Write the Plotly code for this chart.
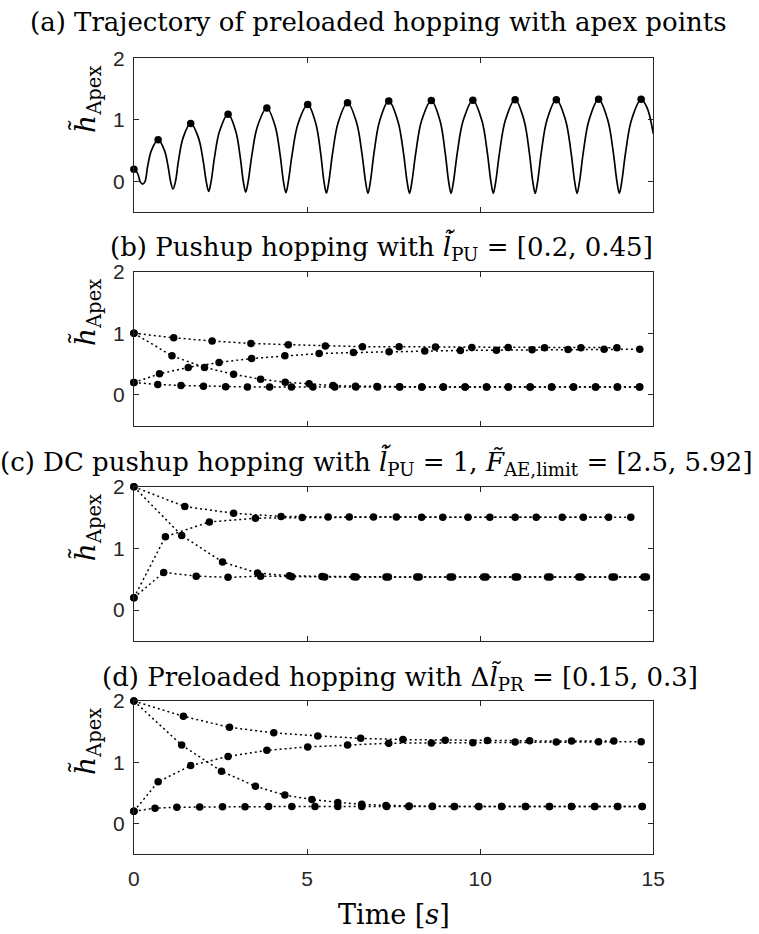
import plotly.graph_objects as go

# ---------------- data ----------------
# (a) trajectory samples of preloaded hopping
traj_t = [0, 0.09, 0.144, 0.18, 0.25, 0.32,
          0.396, 0.51, 0.70, 0.88, 0.988, 1.06, 1.13, 1.20,
          1.288, 1.42, 1.64, 1.865, 2.0, 2.09, 2.16, 2.23,
          2.328, 2.475, 2.72, 2.94, 3.072, 3.16, 3.23, 3.30,
          3.408, 3.57, 3.84, 4.08, 4.224, 4.32, 4.39, 4.46,
          4.572, 4.74, 5.02, 5.255, 5.396, 5.49, 5.56, 5.63,
          5.738, 5.90, 6.17, 6.43, 6.586, 6.69, 6.76, 6.83,
          6.936, 7.095, 7.36, 7.625, 7.784, 7.89, 7.96, 8.03,
          8.142, 8.31, 8.59, 8.84, 8.99, 9.09, 9.16, 9.23,
          9.342, 9.51, 9.79, 10.05, 10.206, 10.31, 10.38, 10.45,
          10.562, 10.73, 11.01, 11.265, 11.418, 11.52, 11.59, 11.66,
          11.768, 11.93, 12.20, 12.465, 12.624, 12.73, 12.80, 12.87,
          12.98, 13.145, 13.42, 13.685, 13.844, 13.95, 14.02, 14.09,
          14.202, 14.37, 14.65, 14.82, 15.0]
traj_h = [0.20, 0.15, 0.072, 0, -0.04, 0,
          0.245, 0.51, 0.68, 0.51, 0.245, 0, -0.12, 0,
          0.34, 0.71, 0.945, 0.71, 0.34, 0, -0.16, 0,
          0.394, 0.82, 1.095, 0.82, 0.394, 0, -0.17, 0,
          0.43, 0.90, 1.195, 0.90, 0.43, 0, -0.18, 0,
          0.45, 0.94, 1.25, 0.94, 0.45, 0, -0.185, 0,
          0.46, 0.96, 1.28, 0.96, 0.46, 0, -0.19, 0,
          0.47, 0.98, 1.31, 0.98, 0.47, 0, -0.19, 0,
          0.47, 0.99, 1.315, 0.99, 0.47, 0, -0.19, 0,
          0.475, 0.99, 1.32, 0.99, 0.475, 0, -0.19, 0,
          0.48, 1.0, 1.33, 1.0, 0.48, 0, -0.19, 0,
          0.48, 1.0, 1.33, 1.0, 0.48, 0, -0.19, 0,
          0.48, 1.0, 1.335, 1.0, 0.48, 0, -0.19, 0,
          0.48, 1.0, 1.335, 1.2, 0.78]
apex_t = [0, 0.70, 1.64, 2.72, 3.84, 5.02, 6.17, 7.36, 8.59, 9.79, 11.01, 12.20, 13.42, 14.65]
apex_h = [0.2, 0.68, 0.945, 1.095, 1.195, 1.25, 1.28, 1.31, 1.315, 1.32, 1.33, 1.33, 1.335, 1.335]

# (b) pushup hopping
b1_t = [0, 1.15, 2.26, 3.38, 4.46, 5.53, 6.60, 7.66, 8.71, 9.76, 10.81, 11.86, 12.91, 13.95]
b1_h = [1.0, 0.926, 0.873, 0.835, 0.814, 0.793, 0.782, 0.78, 0.777, 0.77, 0.768, 0.766, 0.765, 0.765]
b2_t = [0, 1.10, 2.04, 2.88, 3.66, 4.37, 5.06, 5.75, 6.40, 7.02, 7.67, 8.31, 8.93, 9.56,
        10.18, 10.81, 11.44, 12.06, 12.69, 13.33, 13.96, 14.60]
b2_h = [1.0, 0.633, 0.445, 0.333, 0.253, 0.205, 0.178, 0.15, 0.14, 0.133, 0.13, 0.128, 0.127, 0.126,
        0.125, 0.125, 0.125, 0.125, 0.125, 0.125, 0.125, 0.125]
b3_t = [0, 0.74, 1.57, 2.46, 3.40, 4.36, 5.35, 6.34, 7.37, 8.40, 9.43, 10.47, 11.50, 12.54, 13.58, 14.61]
b3_h = [0.2, 0.34, 0.445, 0.525, 0.59, 0.633, 0.67, 0.686, 0.70, 0.71, 0.72, 0.725, 0.73, 0.735, 0.74, 0.74]
b4_t = [0, 0.69, 1.36, 2.01, 2.65, 3.28, 3.92, 4.55, 5.17, 5.80, 6.41, 7.04, 7.68, 8.32, 8.94,
        9.57, 10.19, 10.82, 11.45, 12.07, 12.70, 13.34, 13.97, 14.61]
b4_h = [0.2, 0.168, 0.152, 0.14, 0.13, 0.127, 0.126, 0.125, 0.125, 0.125, 0.125, 0.125, 0.125,
        0.125, 0.125, 0.125, 0.125, 0.125, 0.125, 0.125, 0.125, 0.125, 0.125, 0.125]

# (c) DC pushup hopping
c1_t = [0, 1.47, 2.88, 4.25, 5.61, 6.92, 8.31, 9.65, 11.01, 12.37, 13.71]
c1_h = [2.0, 1.68, 1.57, 1.52, 1.51, 1.51, 1.505, 1.505, 1.505, 1.505, 1.505]
c2_t = [0, 0.91, 2.18, 3.51, 4.86, 6.22, 7.58, 8.92, 10.28, 11.62, 12.98, 14.35]
c2_h = [0.2, 1.19, 1.43, 1.49, 1.50, 1.51, 1.51, 1.505, 1.505, 1.505, 1.505, 1.505]
c3_t = [0, 1.38, 2.56, 3.57, 4.49, 5.43, 6.35, 7.28, 8.17, 9.13, 10.10, 11.01, 11.95, 12.85, 13.81, 14.73]
c3_h = [2.0, 1.21, 0.78, 0.60, 0.555, 0.545, 0.54, 0.538, 0.537, 0.537, 0.537, 0.537, 0.537, 0.537, 0.537, 0.537]
c4_t = [0, 0.86, 1.80, 2.72, 3.66, 4.56, 5.51, 6.42, 7.35, 8.24, 9.20, 10.17, 11.08, 12.02, 12.92, 13.88, 14.80]
c4_h = [0.2, 0.61, 0.55, 0.53, 0.55, 0.54, 0.537, 0.537, 0.537, 0.537, 0.537, 0.537, 0.537, 0.537,
        0.537, 0.537, 0.537]

# (d) preloaded hopping
d1_t = [0, 1.43, 2.76, 4.04, 5.31, 6.55, 7.77, 8.99, 10.21, 11.43, 12.64, 13.86]
d1_h = [2.0, 1.75, 1.57, 1.48, 1.43, 1.39, 1.37, 1.36, 1.355, 1.35, 1.345, 1.345]
d2_t = apex_t
d2_h = apex_h
d3_t = [0, 1.38, 2.53, 3.51, 4.36, 5.14, 5.89, 6.58, 7.28, 7.95, 8.62, 9.26, 9.96, 10.62,
        11.31, 12.0, 12.64, 13.31, 13.97, 14.68]
d3_h = [2.0, 1.28, 0.853, 0.607, 0.463, 0.392, 0.344, 0.312, 0.295, 0.285, 0.28, 0.278, 0.277,
        0.276, 0.275, 0.275, 0.275, 0.275, 0.275, 0.275]
d4_t = [0, 0.61, 1.24, 1.90, 2.56, 3.21, 3.89, 4.56, 5.23, 5.89, 6.58, 7.30, 7.94, 8.62, 9.25,
        9.96, 10.62, 11.31, 12.0, 12.64, 13.31, 13.97, 14.68]
d4_h = [0.2, 0.25, 0.265, 0.27, 0.272, 0.274, 0.275, 0.275, 0.275, 0.275, 0.275, 0.275, 0.275,
        0.275, 0.275, 0.275, 0.275, 0.275, 0.275, 0.275, 0.275, 0.275, 0.275]

x_ticks = [0, 5, 10, 15]
y_ticks = [0, 1, 2]

titles = [
    "(a) Trajectory of preloaded hopping with apex points",
    "(b) Pushup hopping with <i>l\u0307\u0303</i><sub>PU</sub> = [0.2, 0.45]",
    "(c) DC pushup hopping with <i>l\u0307\u0303</i><sub>PU</sub> = 1, <i>F\u0303</i><sub>AE,limit</sub> = [2.5, 5.92]",
    "(d) Preloaded hopping with \u0394<i>l\u0303</i><sub>PR</sub> = [0.15, 0.3]",
]
ylabel = "<i>h\u0303</i><sub>Apex</sub>"
xlabel = "Time [<i>s</i>]"

# ---------------- layout constants ----------------
W, H = 759, 934
X0, X1 = 131, 663
panel_px = [(47, 203), (263, 419), (481, 637), (698, 853)]
title_px = [(382, 10), (385, 238), (380, 456), (404, 675)]
INK = "#262626"
SERIF = "DejaVu Serif"
SANS = "Liberation Sans, Arial, sans-serif"
DOT = "2px,3px"
MSIZE = 7.5

fig = go.Figure()

def ax_names(i):
    return ("x" if i == 0 else f"x{i+1}", "y" if i == 0 else f"y{i+1}")

# panel (a)
xa, ya = ax_names(0)
fig.add_trace(go.Scatter(x=traj_t, y=traj_h, mode="lines", line=dict(color="black", width=1.7, shape="spline", smoothing=1.0),
                         xaxis=xa, yaxis=ya, showlegend=False, hoverinfo="skip"))
fig.add_trace(go.Scatter(x=apex_t, y=apex_h, mode="markers", marker=dict(color="black", size=MSIZE),
                         xaxis=xa, yaxis=ya, showlegend=False, cliponaxis=False))

series = [
    [(b1_t, b1_h), (b2_t, b2_h), (b3_t, b3_h), (b4_t, b4_h)],
    [(c1_t, c1_h), (c2_t, c2_h), (c3_t, c3_h), (c4_t, c4_h)],
    [(d1_t, d1_h), (d2_t, d2_h), (d3_t, d3_h), (d4_t, d4_h)],
]
for k, group in enumerate(series, start=1):
    xa, ya = ax_names(k)
    for t, h in group:
        fig.add_trace(go.Scatter(x=t, y=h, mode="lines+markers",
                                 line=dict(color="black", width=1.5, dash=DOT),
                                 marker=dict(color="black", size=MSIZE),
                                 xaxis=xa, yaxis=ya, showlegend=False, cliponaxis=False))

layout = dict(width=W, height=H, autosize=False, margin=dict(l=0, r=0, t=0, b=0),
              paper_bgcolor="white", plot_bgcolor="white", showlegend=False)
annotations = []
for i, (top, bot) in enumerate(panel_px):
    xk = "xaxis" if i == 0 else f"xaxis{i+1}"
    yk = "yaxis" if i == 0 else f"yaxis{i+1}"
    ya_name = "y" if i == 0 else f"y{i+1}"
    xa_name = "x" if i == 0 else f"x{i+1}"
    layout[xk] = dict(domain=[X0 / W, X1 / W], range=[0, 15], anchor=ya_name,
                      tickvals=x_ticks, showticklabels=(i == 3),
                      ticks="inside", ticklen=5, tickcolor=INK, tickwidth=1,
                      showline=True, linecolor=INK, linewidth=1.2, mirror="ticks",
                      showgrid=False, zeroline=False,
                      tickfont=dict(family=SANS, size=21, color=INK), ticklabelstandoff=6)
    layout[yk] = dict(domain=[1 - bot / H, 1 - top / H], range=[-0.5, 2], anchor=xa_name,
                      tickvals=y_ticks, ticks="inside", ticklen=5, tickcolor=INK, tickwidth=1,
                      showline=True, linecolor=INK, linewidth=1.2, mirror="ticks",
                      showgrid=False, zeroline=False,
                      tickfont=dict(family=SANS, size=21, color=INK), ticklabelstandoff=4)
    cx, cy = title_px[i]
    annotations.append(dict(text=titles[i], x=cx / W, y=1 - cy / H, xref="paper", yref="paper",
                            xanchor="center", yanchor="middle", showarrow=False,
                            font=dict(family=SERIF, size=26, color="black")))
    annotations.append(dict(text=ylabel, x=83 / W, y=1 - ((top + bot) / 2 - 36) / H,
                            xref="paper", yref="paper", xanchor="center", yanchor="middle",
                            textangle=-90, showarrow=False,
                            font=dict(family=SERIF, size=28, color="black")))
annotations.append(dict(text=xlabel, x=397 / W, y=1 - 914 / H, xref="paper", yref="paper",
                        xanchor="center", yanchor="middle", showarrow=False,
                        font=dict(family=SERIF, size=27, color="black")))
layout["annotations"] = annotations
fig.update_layout(**layout)
fig.write_html("out.html")
